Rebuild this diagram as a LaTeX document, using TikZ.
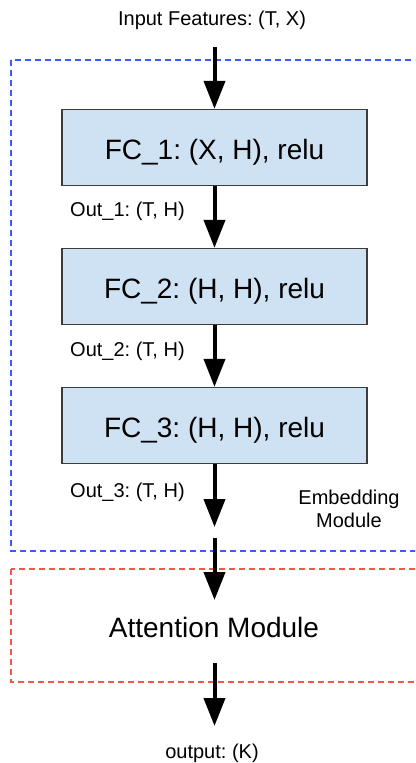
\documentclass[tikz,border=0pt]{standalone}
\usepackage{fontspec}
\setmainfont{Liberation Sans}
\usepackage{xcolor}
\usetikzlibrary{arrows.meta}
\definecolor{fcfill}{HTML}{CFE2F3}
\definecolor{fcline}{HTML}{3C3C3C}
\definecolor{embblue}{HTML}{3D5AFE}
\definecolor{attred}{HTML}{F4564B}
\frenchspacing

\begin{document}
\begin{tikzpicture}[x=1pt,y=-1pt]
          \tikzstyle{fcbox}=[draw=fcline,fill=fcfill,line width=1.2pt,minimum width=305pt,minimum height=76pt,inner sep=0pt,text height=24pt,text depth=0pt,font=\fontsize{28}{32}\selectfont]
          \tikzstyle{bigtext}=[anchor=base,inner sep=0pt,font=\fontsize{28}{32}\selectfont]
          \tikzstyle{dimtext}=[inner sep=0pt,font=\fontsize{20}{23}\selectfont]
          \tikzstyle{flow}=[draw,line width=4pt,-{Triangle[width=21pt,length=28pt]}]
          \tikzstyle{modframe}=[draw,line width=1.5pt,dash pattern=on 6pt off 4pt]
          \useasboundingbox (0,0) rectangle (415,763);
          \clip (0,0) rectangle (415,763);
          % module frames
          \draw[modframe,embblue] (11,60) rectangle (425,551);
          \draw[modframe,attred] (11,569) rectangle (425,682);
          \node[dimtext,anchor=base] (input) at (212,25) {Input Features: (T, X)};
          \node[fcbox] (fc1) at (214.5,147.5) {FC\_1: (X, H), relu};
          \node[fcbox] (fc2) at (214.5,286.5) {FC\_2: (H, H), relu};
          \node[fcbox] (fc3) at (214.5,425.5) {FC\_3: (H, H), relu};
          \node[dimtext,anchor=base west] (out1) at (70,216) {Out\_1: (T, H)};
          \node[dimtext,anchor=base west] (out2) at (70,356.5) {Out\_2: (T, H)};
          \node[dimtext,anchor=base west] (out3) at (70,497) {Out\_3: (T, H)};
          \node[dimtext,align=center] (embname) at (349,509) {Embedding\\Module};
          \node[bigtext] (att) at (214,637) {Attention Module};
          \node[dimtext,anchor=base] (output) at (212,758) {output: (K)};
          % free arrow ends
          \coordinate (in0) at (214.5,47);
          \coordinate (e3) at (214.5,527);
          \coordinate (a0) at (214.5,538);
          \coordinate (a1) at (214.5,600);
          \coordinate (o0) at (214.5,663);
          \coordinate (o1) at (214.5,726);
          \draw[flow] (in0) -- (fc1);
          \foreach \a/\b in {fc1/fc2,fc2/fc3}
            \draw[flow] (\a) -- (\b);
          \draw[flow] (fc3) -- (e3);
          \draw[flow] (a0) -- (a1);
          \draw[flow] (o0) -- (o1);
        \end{tikzpicture}
\end{document}
